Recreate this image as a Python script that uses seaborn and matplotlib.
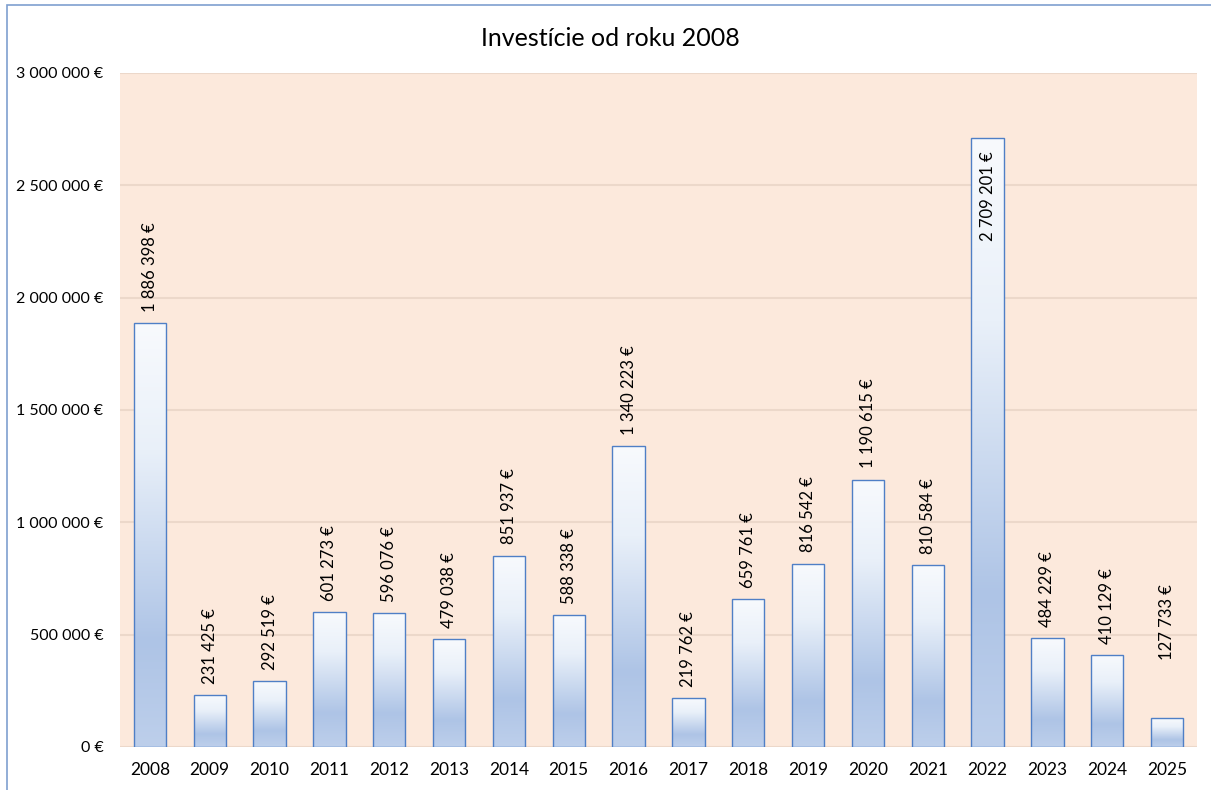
import matplotlib
matplotlib.use("Agg")
import matplotlib.pyplot as plt
import matplotlib.patches as mpatches
from matplotlib.colors import LinearSegmentedColormap
from matplotlib.ticker import FuncFormatter
import numpy as np
import pandas as pd
import seaborn as sns

# Data
years = ["2008", "2009", "2010", "2011", "2012", "2013", "2014", "2015", "2016",
         "2017", "2018", "2019", "2020", "2021", "2022", "2023", "2024", "2025"]
investments = [1886398, 231425, 292519, 601273, 596076, 479038, 851937, 588338, 1340223,
               219762, 659761, 816542, 1190615, 810584, 2709201, 484229, 410129, 127733]
yticks = [0, 500000, 1000000, 1500000, 2000000, 2500000, 3000000]

df = pd.DataFrame({"year": years, "value": investments})


def euro(v):
    return "{:,.0f} €".format(v).replace(",", " ")


sns.set_style("white")
plt.rcParams["font.family"] = ["Lato", "DejaVu Sans"]

fig = plt.figure(figsize=(12.11, 7.90), dpi=100)
ax = fig.add_axes([120 / 1211, 43 / 790, 1077 / 1211, 674 / 790])
ax.set_facecolor("#fce9dc")

sns.barplot(data=df, x="year", y="value", ax=ax, width=0.54, color="#c5d5ee",
            edgecolor="#4f7fc6", linewidth=1.0, zorder=3)

# gradient fill inside each bar, white on top to blue near the bottom
grad = LinearSegmentedColormap.from_list(
    "bar", [(0, "#f8fafd"), (0.3, "#e9f0f9"), (0.75, "#aec4e6"), (1, "#bdcfeb")])
column = np.linspace(0, 1, 256).reshape(-1, 1)
for p in ax.patches:
    x0, y0 = p.get_x(), p.get_y()
    w, h = p.get_width(), p.get_height()
    im = ax.imshow(column, cmap=grad, aspect="auto", origin="upper",
                   extent=[x0, x0 + w, y0, y0 + h], zorder=3, interpolation="bilinear")
    im.set_clip_path(p)
    p.set_facecolor("none")
    p.set_zorder(4)

# value labels, rotated (the tallest one sits inside, the last one floats a bit higher)
for i, v in enumerate(investments):
    if v > 2600000:
        ax.annotate(euro(v), (i, v), xytext=(0, -9), textcoords="offset points",
                    rotation=90, ha="center", va="top", fontsize=12, color="black", zorder=5)
    else:
        off = 42 if i == len(investments) - 1 else 8
        ax.annotate(euro(v), (i, v), xytext=(0, off), textcoords="offset points",
                    rotation=90, ha="center", va="bottom", fontsize=12, color="black", zorder=5)

ax.set_xlim(-0.5, len(years) - 0.5)
ax.set_ylim(0, 3000000)
ax.set_yticks(yticks)
ax.yaxis.set_major_formatter(FuncFormatter(lambda v, pos: euro(v)))
ax.grid(axis="y", color="#ecd8ca", linewidth=1.5, zorder=1)
ax.set_axisbelow(True)
ax.tick_params(axis="y", length=0, pad=12, labelsize=11.5, labelcolor="black")
ax.tick_params(axis="x", length=0, pad=11, labelsize=12.5, labelcolor="black")
ax.set_xlabel("")
ax.set_ylabel("")
for s in ax.spines.values():
    s.set_visible(False)

fig.text(610 / 1211, 1 - 38 / 790, "Investície od roku 2008", ha="center", va="center",
         fontsize=18, color="black")

# thin blue frame around the chart
fig.patches.append(mpatches.Rectangle((7 / 1211, -0.05), 1.1, 1 - 5 / 790 + 0.05,
                                      transform=fig.transFigure, fill=False,
                                      edgecolor="#7f9fcf", linewidth=1.2))

fig.savefig("out.png", dpi=100)
